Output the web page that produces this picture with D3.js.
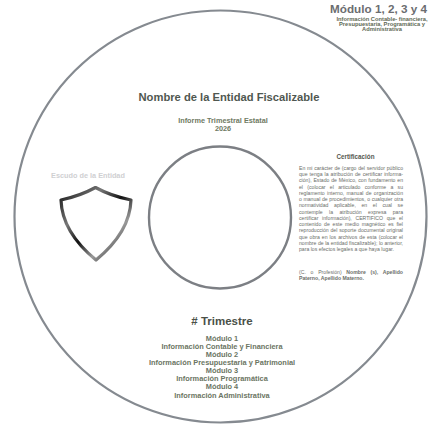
<!DOCTYPE html>
<html>
<head>
<meta charset="utf-8">
<script src="https://cdn.jsdelivr.net/npm/d3@7"></script>
<style>
  body { margin: 0; background: #fff; }
  svg { display: block; }
  text { font-family: "Liberation Sans", Arial, sans-serif; }
</style>
</head>
<body>
<svg id="label" width="433" height="426"></svg>
<script>
/* Texts */
var header = 'Módulo 1, 2, 3 y 4';
var headerSub = ['Información Contable- financiera,', 'Presupuestaria, Programática y', 'Administrativa'];
var entity = 'Nombre de la Entidad Fiscalizable';
var report = ['Informe Trimestral Estatal', '2026'];
var shieldCaption = 'Escudo de la Entidad';
var certTitle = 'Certificación';
var certLines = [
  'En mi carácter de (cargo del servidor público',
  'que tenga la atribución de certificar informa-',
  'ción), Estado de México, con fundamento en',
  'el (colocar el articulado conforme a su',
  'reglamento interno, manual de organización',
  'o manual de procedimientos, o cualquier otra',
  'normatividad aplicable, en el cual se',
  'contemple la atribución expresa para',
  'certificar información), CERTIFICO que el',
  'contenido de este medio magnético es fiel',
  'reproducción del soporte documental original',
  'que obra en los archivos de esta (colocar el',
  'nombre de la entidad fiscalizable); lo anterior,',
  'para los efectos legales a que haya lugar.'
];
var signLines = ['(C. o Profesión) Nombre (s), Apellido', 'Paterno, Apellido Materno.'];
var trimestre = '# Trimestre';
var modules = [
  'Módulo 1', 'Información Contable y Financiera',
  'Módulo 2', 'Información Presupuestaria y Patrimonial',
  'Módulo 3', 'Información Programática',
  'Módulo 4', 'Información Administrativa'
];

var svg = d3.select('#label');

/* Disc */
svg.append('circle')
  .attr('cx', 220.5).attr('cy', 216.5).attr('r', 206)
  .attr('fill', 'none').attr('stroke', '#858a90').attr('stroke-width', 2.2);
svg.append('circle')
  .attr('cx', 220).attr('cy', 217.5).attr('r', 71)
  .attr('fill', 'none').attr('stroke', '#7c7f84').attr('stroke-width', 2.4);

/* Header top right */
svg.append('text')
  .attr('x', 378.5).attr('y', 12.5)
  .attr('text-anchor', 'middle')
  .attr('font-size', 11.7).attr('font-weight', 'bold')
  .attr('fill', '#6b6d70')
  .text(header);
// small lines are drawn narrow-sized and stretched sideways, like the original
svg.append('g')
  .attr('transform', 'translate(382,0) scale(1.25,1)')
  .selectAll('text.hsub')
  .data(headerSub)
  .join('text')
  .classed('hsub', true)
  .attr('x', 0)
  .attr('y', function (d, i) { return 20.6 + i * 5.1; })
  .attr('text-anchor', 'middle')
  .attr('font-size', 4.6).attr('font-weight', 'bold')
  .attr('fill', '#5f6a55')
  .text(function (d) { return d; });

/* Entity name */
svg.append('text')
  .attr('x', 229).attr('y', 100.5)
  .attr('text-anchor', 'middle')
  .attr('font-size', 11.2).attr('font-weight', 'bold')
  .attr('fill', '#4f5750')
  .text(entity);
svg.selectAll('text.report')
  .data(report)
  .join('text')
  .classed('report', true)
  .attr('x', 223)
  .attr('y', function (d, i) { return 122.5 + i * 8; })
  .attr('text-anchor', 'middle')
  .attr('font-size', 7.3).attr('font-weight', 'bold')
  .attr('fill', '#6f7a63')
  .text(function (d) { return d; });

/* Shield */
svg.append('text')
  .attr('x', 88).attr('y', 177.5)
  .attr('text-anchor', 'middle')
  .attr('font-size', 7.3).attr('font-weight', 'bold')
  .attr('fill', '#cfd0d2')
  .text(shieldCaption);

var defs = svg.append('defs');
var grad = defs.append('linearGradient')
  .attr('id', 'metal').attr('x1', '0').attr('y1', '0').attr('x2', '1').attr('y2', '1');
[['0%', '#111'], ['30%', '#777'], ['50%', '#111'], ['70%', '#999'], ['100%', '#111']].forEach(function (s) {
  grad.append('stop').attr('offset', s[0]).attr('stop-color', s[1]);
});

var shield = d3.path();
shield.moveTo(61, 200);
shield.quadraticCurveTo(80, 196, 95.5, 187.5);
shield.quadraticCurveTo(111, 196, 131, 200);
shield.quadraticCurveTo(130, 232, 96, 260);
shield.quadraticCurveTo(62, 232, 61, 200);
shield.closePath();
svg.append('path')
  .attr('d', shield.toString())
  .attr('fill', '#fff')
  .attr('stroke', 'url(#metal)')
  .attr('stroke-width', 3.2)
  .attr('stroke-linejoin', 'round');

/* Certification */
svg.append('text')
  .attr('x', 355.5).attr('y', 158.5)
  .attr('text-anchor', 'middle')
  .attr('font-size', 6.3).attr('font-weight', 'bold')
  .attr('fill', '#55584f')
  .text(certTitle);

var certLeft = 299, certRight = 403;
var certWidth = certRight - certLeft;

function justify(node, gaps) {
  var w = node.getComputedTextLength();
  if (w > certWidth) {
    d3.select(node).attr('textLength', certWidth).attr('lengthAdjust', 'spacingAndGlyphs');
  } else if (gaps > 0) {
    d3.select(node).attr('word-spacing', (certWidth - w) / gaps);
  }
}

var cert = svg.selectAll('text.cert')
  .data(certLines)
  .join('text')
  .classed('cert', true)
  .attr('x', certLeft)
  .attr('y', function (d, i) { return 170 + i * 6.23; })
  .attr('font-size', 5.15)
  .attr('fill', '#6b6e69')
  .text(function (d) { return d; });

// justify all lines except the last one
cert.each(function (d, i) {
  if (i === certLines.length - 1) return;
  justify(this, d.split(' ').length - 1);
});

var sign = svg.selectAll('text.sign')
  .data(signLines)
  .join('text')
  .classed('sign', true)
  .attr('x', certLeft)
  .attr('y', function (d, i) { return 274 + i * 6.2; })
  .attr('font-size', 5.15)
  .attr('fill', '#6b6e69');
sign.filter(function (d, i) { return i === 0; })
  .each(function () {
    var t = d3.select(this);
    t.append('tspan').text('(C. o Profesión) ');
    t.append('tspan').attr('font-weight', 'bold').text('Nombre (s), Apellido');
    justify(this, 5);
  });
sign.filter(function (d, i) { return i === 1; })
  .attr('font-weight', 'bold')
  .text(function (d) { return d; });

/* Trimestre */
svg.append('text')
  .attr('x', 222).attr('y', 325)
  .attr('text-anchor', 'middle')
  .attr('font-size', 11.5).attr('font-weight', 'bold')
  .attr('fill', '#4a5048')
  .text(trimestre);

svg.selectAll('text.mod')
  .data(modules)
  .join('text')
  .classed('mod', true)
  .attr('x', 222)
  .attr('y', function (d, i) { return 340.8 + i * 8.1; })
  .attr('text-anchor', 'middle')
  .attr('font-size', 7.4).attr('font-weight', 'bold')
  .attr('fill', '#6b7563')
  .text(function (d) { return d; });
</script>
</body>
</html>
